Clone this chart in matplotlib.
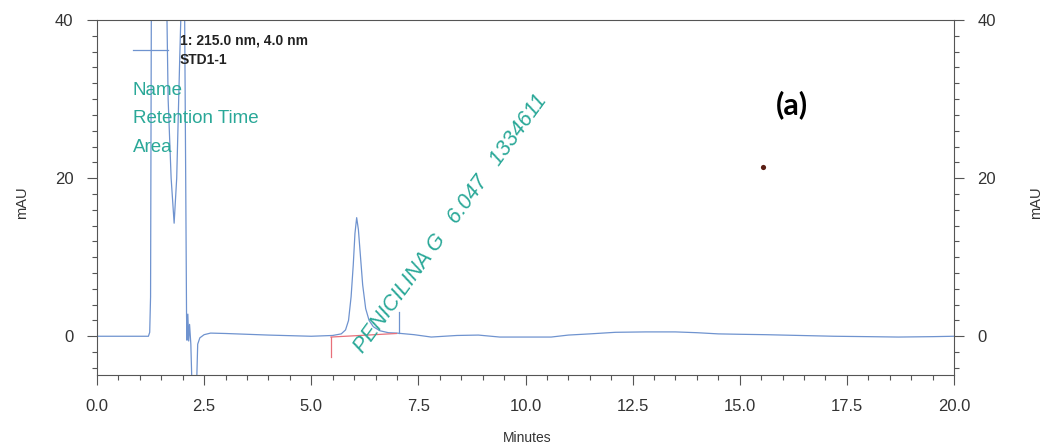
import matplotlib
matplotlib.use("Agg")
import matplotlib.pyplot as plt
from matplotlib.ticker import MultipleLocator

# chromatogram trace (minutes, mAU)
time_min = [0.0, 0.5, 1.0, 1.20, 1.23, 1.25, 1.27, 1.62, 1.66, 1.73, 1.80, 1.86, 1.93, 1.98,
            2.04, 2.07, 2.09, 2.10, 2.12, 2.14, 2.16, 2.19, 2.22, 2.32, 2.35, 2.40, 2.50,
            2.65, 3.0, 4.0, 5.0, 5.5, 5.7, 5.8, 5.87, 5.93, 5.98, 6.02, 6.06, 6.10, 6.15,
            6.20, 6.27, 6.35, 6.45, 6.6, 6.8, 7.0, 7.4, 7.8, 8.4, 8.9, 9.4, 10.0, 10.6,
            11.0, 11.5, 12.1, 12.8, 13.5, 14.0, 14.5, 15.0, 15.6, 16.4, 17.2, 18.0, 18.7,
            19.5, 20.0]
absorb_mau = [0.0, 0.0, 0.0, 0.0, 0.5, 5.0, 45.0, 45.0, 30.0, 20.0, 14.3, 20.0, 35.0, 45.0,
              45.0, 20.0, 2.5, -0.5, 2.8, -0.6, 1.5, -1.0, -7.0, -7.0, -1.0, -0.2, 0.2,
              0.4, 0.35, 0.15, 0.0, 0.1, 0.3, 0.8, 2.0, 5.0, 9.0, 13.0, 15.0, 13.5, 10.0,
              6.5, 3.5, 2.0, 1.2, 0.7, 0.45, 0.4, 0.2, -0.1, 0.1, 0.15, -0.1, -0.1, -0.1,
              0.15, 0.3, 0.5, 0.55, 0.55, 0.45, 0.3, 0.25, 0.2, 0.1, 0.0, -0.05, -0.1,
              -0.05, 0.0]

# integration marks for the penicillin peak
base_start = 5.46
base_end = 6.99
base_levels = [-0.1, 0.35]
start_tick = [-0.1, -2.6]
end_marker_t = 7.05
end_marker = [0.4, 3.1]

peak_name = "PENICILINA G"
peak_rt = "6.047"
peak_area = "1334611"

narrow = ["Liberation Sans Narrow", "Liberation Sans", "DejaVu Sans"]
teal = "#2aa898"
blue = "#6f93cf"

fig = plt.figure(figsize=(10.47, 4.48), dpi=100)
ax = fig.add_axes([97 / 1047, 1 - 375 / 448, 857 / 1047, 355 / 448])

ax.plot(time_min, absorb_mau, color=blue, lw=0.9)
ax.plot([base_start, base_end], base_levels, color="#e8707a", lw=0.9)
ax.plot([base_start, base_start], start_tick, color="#e8707a", lw=0.9)
ax.plot([end_marker_t, end_marker_t], end_marker, color=blue, lw=0.9)
ax.scatter([15.54], [21.4], s=14, color="#5a1e14", marker="o", lw=0)

ax.set_xlim(0, 20)
ax.set_ylim(-4.9, 40)
ax.xaxis.set_major_locator(MultipleLocator(2.5))
ax.xaxis.set_minor_locator(MultipleLocator(0.5))
ax.yaxis.set_major_locator(MultipleLocator(20))
ax.yaxis.set_minor_locator(MultipleLocator(2))
ax.xaxis.set_major_formatter(plt.FuncFormatter(lambda v, p: f"{v:.1f}"))

ax.tick_params(which="both", direction="out", color="#555555", width=0.8,
               right=True, labelright=True, top=False)
ax.tick_params(which="major", length=7, labelsize=12, pad=10)
ax.tick_params(which="minor", length=3.5)
for lab in ax.get_xticklabels() + ax.get_yticklabels():
    lab.set_family(narrow)
    lab.set_color("#333333")
for s in ax.spines.values():
    s.set_color("#555555")
    s.set_linewidth(0.8)

fig.text(22 / 1047, 1 - 203 / 448, "mAU", rotation=90, ha="center", va="center",
         fontsize=10.5, family=narrow, color="#333333")
fig.text(1036 / 1047, 1 - 203 / 448, "mAU", rotation=90, ha="center", va="center",
         fontsize=10.5, family=narrow, color="#333333")
fig.text(527 / 1047, 1 - 438 / 448, "Minutes", ha="center", va="center",
         fontsize=10, family=narrow, color="#333333")

# legend-like header
ax.plot([(133 - 97) / 857, (168 - 97) / 857], [1 - 30 / 355, 1 - 30 / 355],
        transform=ax.transAxes, color=blue, lw=0.9)
ax.text((180 - 97) / 857, 1 - 20 / 355, "1: 215.0 nm, 4.0 nm", transform=ax.transAxes,
        ha="left", va="center", fontsize=10, fontweight="bold", family=narrow, color="#222222")
ax.text((180 - 97) / 857, 1 - 40 / 355, "STD1-1", transform=ax.transAxes,
        ha="left", va="center", fontsize=10, fontweight="bold", family=narrow, color="#222222")

for i, lbl in enumerate(["Name", "Retention Time", "Area"]):
    ax.text((133 - 97) / 857, 1 - (70 + 28.5 * i) / 355, lbl, transform=ax.transAxes,
            ha="left", va="center", fontsize=13.5, family=narrow, color=teal)

ax.text(6.2, -2.2, f"{peak_name}   {peak_rt}   {peak_area}", rotation=54,
        rotation_mode="anchor", ha="left", va="baseline", fontsize=15.5, style="italic",
        family=narrow, color=teal)

fig.text(792 / 1047, 1 - 105 / 448, "(a)", ha="center", va="center", fontsize=22,
         fontweight="bold", family=["Lato", "DejaVu Sans"], color="black")

fig.savefig("out.png", dpi=100)
